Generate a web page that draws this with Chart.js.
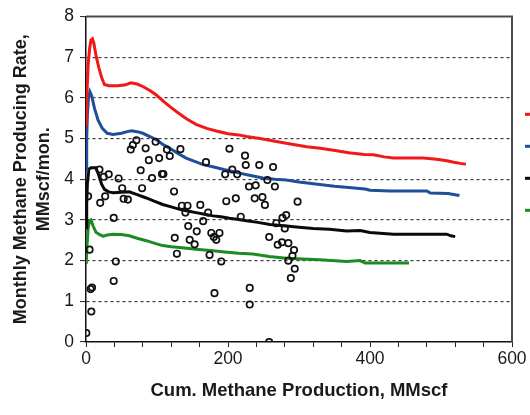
<!DOCTYPE html>
<html>
<head>
<meta charset="utf-8">
<script src="https://cdn.jsdelivr.net/npm/chart.js@4.4.0/dist/chart.umd.min.js"></script>
<style>
  html, body { margin: 0; padding: 0; background: #ffffff; overflow: hidden; }
  #wrap { width: 530px; height: 415px; position: relative; }
</style>
</head>
<body>
<div id="wrap"><canvas id="c" width="530" height="415"></canvas></div>
<script>
// ---- Data ----
const xTickLabels = [0, 200, 400, 600];
const yTickLabels = [0, 1, 2, 3, 4, 5, 6, 7, 8];

const redCurve = [[0.3,5.3],[1.5,6.2],[3,6.8],[5,7.2],[7,7.42],[9,7.45],[11,7.35],[14,7.05],[18,6.75],[22,6.5],[26,6.33],[32,6.3],[45,6.3],[56,6.32],[63,6.37],[72,6.34],[80,6.28],[90,6.18],[99,6.07],[110,5.9],[120,5.76],[130,5.63],[142,5.48],[155,5.35],[170,5.25],[185,5.18],[200,5.12],[215,5.09],[226,5.05],[245,5.0],[268,4.93],[290,4.86],[311,4.8],[330,4.76],[353,4.7],[370,4.65],[392,4.61],[405,4.6],[420,4.55],[433,4.52],[475,4.52],[490,4.5],[499,4.48],[510,4.45],[518,4.42],[527,4.39],[535,4.37]];

const blueCurve = [[0.3,4.2],[1,5.0],[2,5.6],[3.5,6.0],[5.5,6.15],[8,6.05],[12,5.74],[17,5.45],[23,5.25],[30,5.13],[38,5.1],[50,5.13],[58,5.17],[64,5.19],[72,5.17],[80,5.13],[90,5.05],[99,4.97],[108,4.86],[118,4.76],[130,4.63],[141,4.52],[153,4.44],[165,4.36],[180,4.3],[194,4.24],[205,4.2],[216,4.15],[232,4.09],[249,4.03],[266,4.0],[282,3.98],[300,3.93],[329,3.87],[350,3.83],[370,3.8],[393,3.76],[400,3.73],[428,3.71],[480,3.71],[485,3.66],[510,3.65],[520,3.62],[526,3.6]];

const blackCurve = [[0.3,2.8],[1,3.4],[2,3.9],[4,4.25],[7,4.28],[14,4.28],[18,4.1],[22,3.88],[26,3.75],[32,3.69],[38,3.67],[50,3.68],[61,3.69],[72,3.62],[85,3.54],[96,3.46],[108,3.38],[120,3.32],[132,3.26],[143,3.22],[155,3.18],[167,3.14],[179,3.1],[190,3.08],[202,3.04],[215,3.01],[226,2.98],[242,2.94],[259,2.89],[282,2.85],[300,2.82],[320,2.79],[343,2.77],[367,2.73],[386,2.74],[400,2.69],[433,2.65],[508,2.65],[514,2.61],[520,2.59]];

const greenCurve = [[0.3,1.92],[1.5,2.4],[3,2.8],[5,2.98],[7,3.0],[10,2.85],[14,2.7],[20,2.63],[24,2.6],[30,2.63],[38,2.65],[50,2.64],[61,2.61],[72,2.55],[85,2.49],[96,2.43],[108,2.37],[120,2.34],[132,2.32],[155,2.28],[179,2.24],[195,2.21],[215,2.18],[235,2.16],[258,2.1],[282,2.06],[305,2.04],[329,2.02],[367,1.98],[386,2.0],[393,1.94],[455,1.94]];

const wellPoints = [[0.5,0.22],[3,3.58],[5,2.27],[6.5,1.3],[8.5,1.34],[7.5,0.75],
[19,4.24],[25,4.06],[32,4.12],[20,3.42],[27,3.58],[39,3.05],[46,4.02],[42,1.98],[39,1.5],
[51,3.78],[53,3.52],[59,3.5],[63,4.73],[66,4.84],[71,4.96],[77,4.22],[79,3.78],[84,4.76],[88.5,4.47],[93,4.03],[98,4.92],[103,4.52],[107,4.13],[109,4.13],[114,4.73],[118,4.57],
[124,3.7],[125,2.56],[128,2.17],[133,4.74],[135,3.35],[140,3.18],[143,3.35],[144,2.85],[146,2.51],[153,2.4],[156,2.72],[161,3.37],[165,2.97],[169,4.42],[172,3.18],[174,2.14],[176.5,2.68],[180,2.58],[181,1.2],[183.5,2.51],[188,2.68],[190.5,1.98],[196,4.12],[197.6,3.46],[202,4.75],[206,4.24],[211,3.53],[213,4.12],[218,3.08],[224,4.58],[225,4.35],[229.6,3.82],[230.6,1.33],[230.6,0.92],[239,3.85],[237.6,3.53],[244,4.35],[248.5,3.56],[252,3.37],[255.5,3.98],[258,0.0],[258,2.58],[263.5,4.3],[266,3.82],[268,2.92],[270,2.39],[276,2.45],[276.7,3.05],[280,2.79],[282,3.12],[285,2.43],[285,2.0],[288.5,1.57],[290.8,2.12],[293,2.26],[294,1.8],[298,3.45]];

const toXY = arr => arr.map(p => ({x: p[0], y: p[1]}));

const FONT = "'Liberation Sans', Arial, sans-serif";

const framePlugin = {
  id: 'frame',
  afterDraw(chart) {
    const {ctx, chartArea: a} = chart;
    ctx.save();
    ctx.strokeStyle = '#4a4a4a';
    ctx.lineWidth = 2;
    ctx.beginPath();
    ctx.moveTo(a.left, a.top);
    ctx.lineTo(a.right, a.top);
    ctx.lineTo(a.right, a.bottom);
    ctx.stroke();
    ctx.restore();
  }
};

function lineSet(data, color) {
  return {
    data: toXY(data), showLine: true, borderColor: color, backgroundColor: color,
    borderWidth: 3, pointRadius: 0, tension: 0, order: 2
  };
}

new Chart(document.getElementById('c'), {
  type: 'scatter',
  data: {
    datasets: [
      lineSet(redCurve, '#f01818'),
      lineSet(blueCurve, '#1f4f98'),
      lineSet(blackCurve, '#0a0a0a'),
      lineSet(greenCurve, '#1e8a22'),
      {
        data: toXY(wellPoints), showLine: false, pointStyle: 'circle',
        pointRadius: 3.2, pointBorderWidth: 1.7, pointBorderColor: '#111',
        pointBackgroundColor: 'rgba(0,0,0,0)', borderColor: '#111', order: 1
      }
    ]
  },
  options: {
    responsive: false,
    devicePixelRatio: 1,
    animation: false,
    layout: { padding: { top: 14, left: 0, right: 0, bottom: 0 } },
    plugins: {
      tooltip: { enabled: false },
      legend: {
        display: true,
        position: 'right',
        align: 'start',
        maxWidth: 18,
        title: { display: true, text: '', font: { size: 12 }, padding: { top: 63.4, bottom: 0 } },
        labels: {
          boxWidth: 12, boxHeight: 3, padding: 13,
          font: { size: 19, family: FONT },
          generateLabels: (chart) => chart.data.datasets
            .map((d, i) => ({d, i}))
            .filter(o => o.d.showLine)
            .map(o => ({ text: '', fillStyle: o.d.borderColor, strokeStyle: o.d.borderColor, lineWidth: 0, hidden: false, datasetIndex: o.i }))
        }
      }
    },
    scales: {
      x: {
        type: 'linear', min: 0, max: 600,
        afterFit: s => { s.height = 73; },
        border: { display: true, color: '#111', width: 1.5 },
        grid: {
          drawOnChartArea: false, drawTicks: true, tickLength: 5,
          tickColor: '#222', tickWidth: 1
        },
        ticks: {
          stepSize: 40, autoSkip: false, maxRotation: 0, padding: 2,
          color: '#1a1a1a', font: { size: 17.5, family: FONT },
          callback: v => (xTickLabels.includes(v) ? String(v) : '')
        },
        title: {
          display: true, text: 'Cum. Methane Production, MMscf',
          color: '#1a1a1a', font: { size: 18.5, weight: 'bold', family: FONT },
          padding: { top: 0, bottom: 13 }
        }
      },
      y: {
        type: 'linear', min: 0, max: 8,
        afterFit: s => { s.width = 86; },
        border: { display: true, color: '#111', width: 1.5, dash: [3, 3] },
        grid: {
          drawOnChartArea: true, drawTicks: true, tickLength: 6,
          color: c => (c.tick && (c.tick.value === 0 || c.tick.value === 8)) ? 'rgba(0,0,0,0)' : '#3a3a3a',
          lineWidth: 1.2,
          tickColor: '#222', tickWidth: 1
        },
        ticks: {
          stepSize: 1, padding: 6,
          color: '#1a1a1a', font: { size: 17.5, family: FONT },
          callback: v => (yTickLabels.includes(v) ? String(v) : '')
        },
        title: {
          display: true, text: ['Monthly Methane Producing Rate,', 'MMscf/mon.'],
          color: '#1a1a1a', font: { size: 18, weight: 'bold', family: FONT, lineHeight: '23px' },
          padding: { top: 9.5, bottom: 0 }
        }
      }
    }
  },
  plugins: [framePlugin]
});
</script>
</body>
</html>
